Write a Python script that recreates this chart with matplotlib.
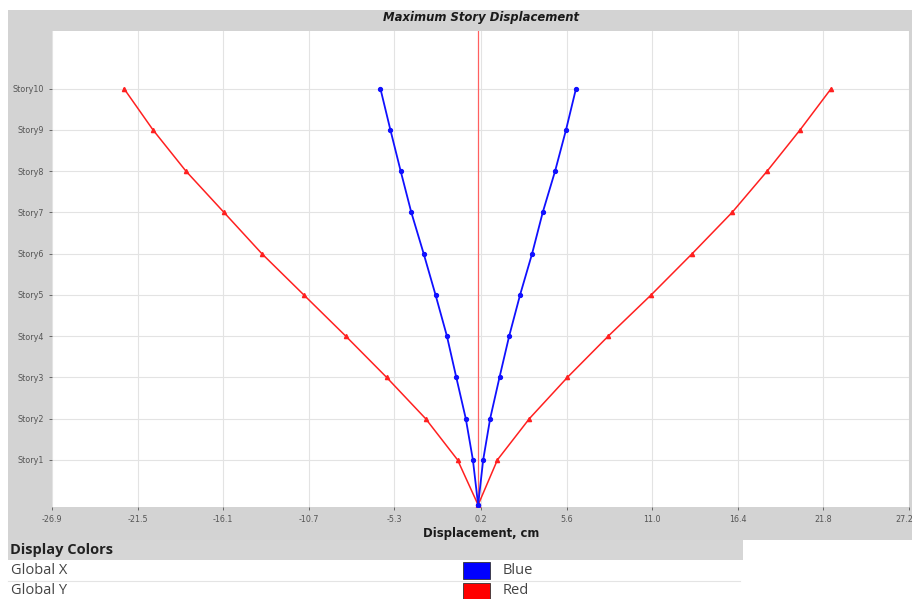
import matplotlib
matplotlib.use('Agg')
import matplotlib.pyplot as plt
from matplotlib.patches import Rectangle
import matplotlib.transforms as mtransforms
import numpy as np

# story names and elevations (m); first story is taller
stories = ['Base', 'Story1', 'Story2', 'Story3', 'Story4', 'Story5',
           'Story6', 'Story7', 'Story8', 'Story9', 'Story10']
elev = [0.0, 3.5, 6.7, 9.9, 13.1, 16.3, 19.5, 22.7, 25.9, 29.1, 32.3]

# displacement envelopes, cm (base -> top)
x_max = [0.0, 0.32, 0.76, 1.35, 1.96, 2.65, 3.41, 4.08, 4.86, 5.55, 6.18]
x_min = [0.0, -0.33, -0.78, -1.38, -1.97, -2.69, -3.44, -4.22, -4.89, -5.54, -6.17]
y_max = [0.0, 1.22, 3.24, 5.64, 8.22, 10.93, 13.52, 16.04, 18.25, 20.33, 22.29]
y_min = [0.0, -1.30, -3.32, -5.78, -8.36, -11.01, -13.66, -16.05, -18.45, -20.53, -22.36]

xticks = [-26.9, -21.5, -16.1, -10.7, -5.3, 0.2, 5.6, 11.0, 16.4, 21.8, 27.2]
xtick_labels = ['-26.9', '-21.5', '-16.1', '-10.7', '-5.3', '0.2',
                '5.6', '11.0', '16.4', '21.8', '27.2']

W, H = 915, 599
fig = plt.figure(figsize=(W / 100, H / 100), dpi=100)
fig.patch.set_facecolor('white')

# background layer in pixel coordinates
bg = fig.add_axes([0, 0, 1, 1])
bg.set_xlim(0, W)
bg.set_ylim(H, 0)
bg.axis('off')
bg.add_patch(Rectangle((8, 10), 904, 530, facecolor='#d3d3d3', edgecolor='none'))
bg.add_patch(Rectangle((8, 540), 735, 20, facecolor='#d6d6d6', edgecolor='none'))
bg.add_patch(Rectangle((8, 560), 904, 39, facecolor='white', edgecolor='none'))
bg.plot([8, 740], [580.5, 580.5], color='#e4e4e4', lw=0.8)
bg.text(481, 18, 'Maximum Story Displacement', ha='center', va='center',
        fontsize=8.4, fontweight='bold', fontstyle='italic', color='#1a1a1a')
bg.text(481, 533, 'Displacement, cm', ha='center', va='center',
        fontsize=8.4, fontweight='bold', color='#1a1a1a')
bg.text(10, 550, 'Display Colors', ha='left', va='center',
        fontsize=10.5, fontweight='bold', color='#222222', family='Open Sans')
bg.text(11, 570, 'Global X', ha='left', va='center',
        fontsize=10.5, color='#444444', family='Open Sans')
bg.text(11, 590, 'Global Y', ha='left', va='center',
        fontsize=10.5, color='#444444', family='Open Sans')
bg.add_patch(Rectangle((463, 562), 27, 17, facecolor='#0000ff', edgecolor='#333333', lw=0.6))
bg.add_patch(Rectangle((463, 583), 27, 16, facecolor='#ff0000', edgecolor='#333333', lw=0.6))
bg.text(503, 570, 'Blue', ha='left', va='center',
        fontsize=10.5, color='#444444', family='Open Sans')
bg.text(503, 591, 'Red', ha='left', va='center',
        fontsize=10.5, color='#444444', family='Open Sans')

# main plot
left, right, top, bottom = 52, 909, 30.5, 507
ax = fig.add_axes([left / W, (H - bottom) / H, (right - left) / W, (bottom - top) / H])
ax.set_facecolor('white')
ax.set_xlim(-26.9, 27.2)
ax.set_ylim(-0.16, 36.8)

ax.set_xticks(xticks)
ax.set_xticklabels(xtick_labels)
ax.set_yticks(elev[1:])
ax.set_yticklabels(stories[1:])
ax.tick_params(axis='both', labelsize=5.8, labelcolor='#555555', color='#555555',
               length=2, width=0.6, direction='out', pad=4)
# last x label sits at the right edge; keep it inside the figure
last = ax.get_xticklabels()[-1]
last.set_transform(last.get_transform() +
                   mtransforms.ScaledTranslation(-5 / 100, 0, fig.dpi_scale_trans))
ax.grid(True, color='#e3e3e3', lw=0.8)
ax.set_axisbelow(True)
for s in ax.spines.values():
    s.set_visible(False)

ax.axvline(0, color='#ff6060', lw=0.9, zorder=1)

ax.plot(y_min, elev, color='#ff2020', lw=1.1, marker='^', ms=3, zorder=3)
ax.plot(y_max, elev, color='#ff2020', lw=1.1, marker='^', ms=3, zorder=3)
ax.plot(x_min, elev, color='#1010ff', lw=1.3, marker='o', ms=2.8, zorder=4)
ax.plot(x_max, elev, color='#1010ff', lw=1.3, marker='o', ms=2.8, zorder=4)

fig.savefig('out.png', dpi=100)
